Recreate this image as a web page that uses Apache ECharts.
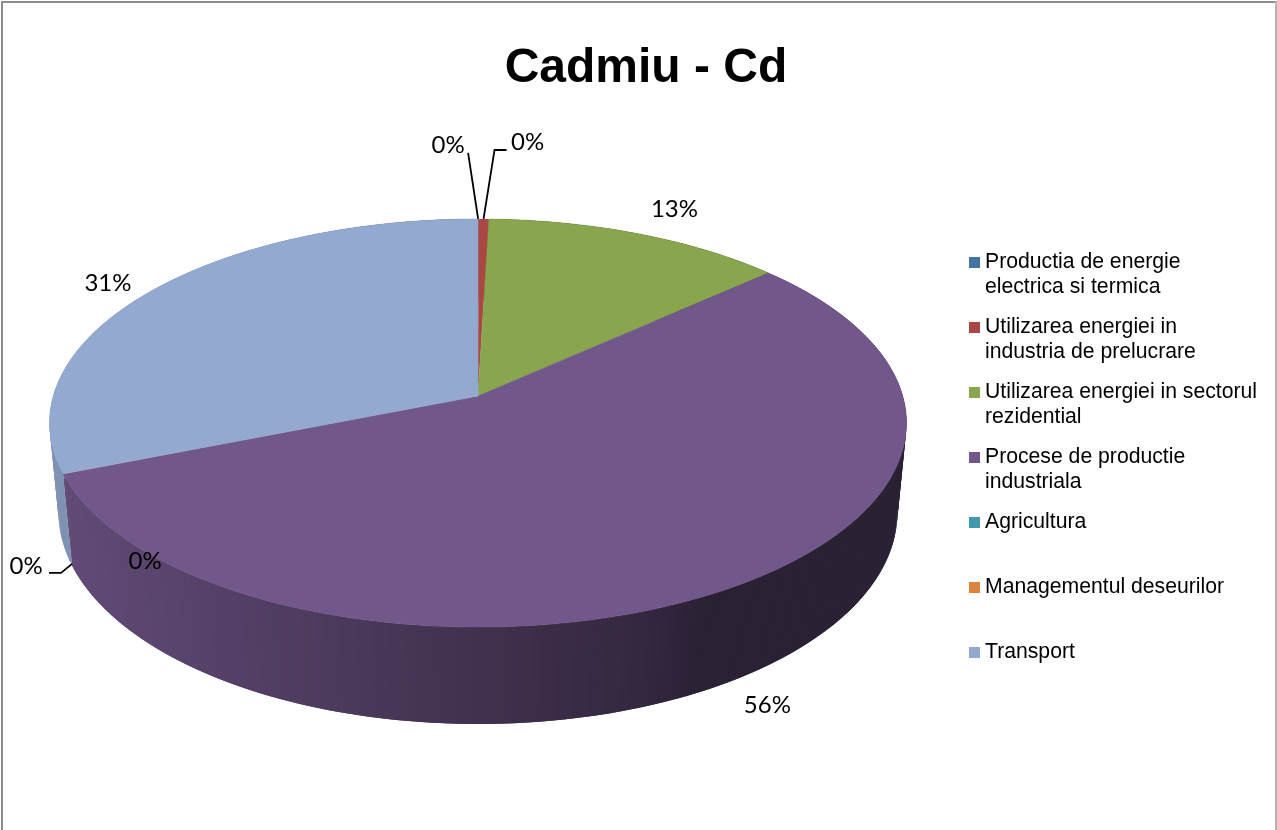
<!DOCTYPE html>
<html>
<head>
<meta charset="utf-8">
<style>
    html, body { margin: 0; padding: 0; background: #fff; overflow: hidden; }
    #chart { width: 1277px; height: 830px; }
</style>
</head>
<body>
<div id="chart"></div>
<script src="https://cdn.jsdelivr.net/npm/echarts@6/dist/echarts.min.js"></script>
<script>
// data (percent)
const categories = [
    'Productia de energie electrica si termica',
    'Utilizarea energiei in industria de prelucrare',
    'Utilizarea energiei in sectorul rezidential',
    'Procese de productie industriala',
    'Agricultura',
    'Managementul deseurilor',
    'Transport',
];
const values = [0.01, 0.45, 12.9, 55.6, 0.01, 0.01, 31.02];
const legendLines = [
    ['Productia de energie', 'electrica si termica'],
    ['Utilizarea energiei in', 'industria de prelucrare'],
    ['Utilizarea energiei in sectorul', 'rezidential'],
    ['Procese de productie', 'industriala'],
    ['Agricultura', ''],
    ['Managementul deseurilor', ''],
    ['Transport', ''],
];
const colors = ['#4572A7', '#AA4643', '#89A54E', '#72578B', '#4198AF', '#DB843D', '#93A9CF'];

// label placement, relative to the rim point at the middle of each slice
const labelOffsets = [[-30, -74], [44, -77], [37, -24], [37, 117], [82, 87], [-37, 92], [-43, -8]];
const leaderOffsets = [
    [[-10, -66]],
    [[11, -69], [23, -69]],
    null,
    null,
    null,
    [[9, 90], [-2, 99], [-14, 99]],
    null,
];

// projection of the tilted pie (perspective, so the apex is above the ellipse centre)
const CX = 478, CY = 396, RX = 424.7, RY = 200.5;
const TILT = 0.1325, DEPTH = 91, DEPTH_W = 0.0213;
// darkening of the side wall from left to right
const shadeX = [50, 210, 430, 650, 700, 1000];
const shadeF = [0.13, 0.25, 0.4, 0.55, 0.62, 0.62];

const total = values.reduce((a, b) => a + b, 0);
const starts = values.map((v, i) => values.slice(0, i).reduce((a, b) => a + b, 0));

function angle(pct) {
    return echarts.number.linearMap(pct, [0, total], [0, Math.PI * 2]);
}

function project(t, h) {
    const u = Math.sin(t), v = Math.cos(t);
    const w = 1 + TILT * v + DEPTH_W * h;
    return [CX + RX * u / w, CY + (-RY * v + DEPTH * h) / w];
}

function wallColor(color, x) {
    let level = shadeF[0];
    for (let i = 1; i < shadeX.length; i++) {
        if (x >= shadeX[i - 1]) {
            level = echarts.number.linearMap(x, [shadeX[i - 1], shadeX[i]], [shadeF[i - 1], shadeF[i]], true);
        }
    }
    return echarts.color.lerp(level, [color, '#000000']);
}

function renderSlice(i) {
    const a0 = angle(starts[i]);
    const a1 = angle(starts[i] + values[i]);
    const steps = Math.max(1, Math.ceil((a1 - a0) * 180 / Math.PI));
    const top = [], bottom = [];
    for (let s = 0; s <= steps; s++) {
        const t = a0 + (a1 - a0) * s / steps;
        top.push(project(t, 0));
        bottom.push(project(t, 1));
    }
    const children = [];
    const big = values[i] > 1;

    // side wall, one band per degree; each band runs under the next so no seams show
    for (let s = 0; s < steps; s++) {
        const e = Math.min(s + 2, steps);
        children.push({
            type: 'polygon',
            z2: 1,
            shape: { points: [top[s], top[e], bottom[e], bottom[s]] },
            style: { fill: wallColor(colors[i], (top[s][0] + top[s + 1][0]) / 2) },
        });
    }
    // top face
    children.push({
        type: 'polygon',
        z2: 5,
        shape: { points: [[CX, CY]].concat(top) },
        style: { fill: colors[i], stroke: big ? colors[i] : null, lineWidth: 0.5 },
    });

    // label + leader
    const mid = project((a0 + a1) / 2, 0);
    const off = labelOffsets[i];
    children.push({
        type: 'text',
        z2: 10,
        style: {
            x: mid[0] + off[0],
            y: mid[1] + off[1],
            text: Math.round(values[i]) + '%',
            fill: '#000',
            font: '24px Lato',
            align: 'center',
            verticalAlign: 'middle',
        },
    });
    if (leaderOffsets[i]) {
        const first = i === 5 ? [] : [mid];
        const pts = first.concat(leaderOffsets[i].map(p => [mid[0] + p[0], mid[1] + p[1]]));
        children.push({
            type: 'polyline',
            z2: 10,
            shape: { points: pts },
            style: { fill: null, stroke: '#000', lineWidth: 1.8 },
        });
    }
    return { type: 'group', children: children };
}

const chart = echarts.init(document.getElementById('chart'), null, { renderer: 'canvas' });

chart.setOption({
    animation: false,
    backgroundColor: '#fff',
    title: {
        text: 'Cadmiu - Cd',
        left: 641,
        top: 40,
        textAlign: 'center',
        textStyle: { fontFamily: 'Liberation Sans', fontWeight: 'bold', fontSize: 48, color: '#000' },
    },
    legend: {
        orient: 'vertical',
        left: 964,
        top: 220,
        itemWidth: 11,
        itemHeight: 11,
        itemGap: -10,
        icon: 'rect',
        selectedMode: false,
        data: categories,
        // blank first line keeps the marker level with the first text line
        formatter: name => {
            const lines = legendLines[categories.indexOf(name)];
            return '\n' + lines[0] + '\n' + (lines[1] || ' ');
        },
        textStyle: {
            fontFamily: 'Liberation Sans',
            fontSize: 21.2,
            lineHeight: 25,
            color: '#000',
        },
    },
    graphic: [
        { type: 'rect', shape: { x: 1, y: 1, width: 2, height: 829 }, style: { fill: '#8c8c8c' }, silent: true },
        { type: 'rect', shape: { x: 1, y: 1, width: 1275, height: 2 }, style: { fill: '#8c8c8c' }, silent: true },
        { type: 'rect', shape: { x: 1275, y: 1, width: 2, height: 829 }, style: { fill: '#b4b4b4' }, silent: true },
    ],
    series: categories.map((name, i) => ({
        type: 'custom',
        name: name,
        coordinateSystem: 'none',
        itemStyle: { color: colors[i] },
        data: [values[i]],
        silent: true,
        renderItem: () => renderSlice(i),
    })),
});
</script>
</body>
</html>
